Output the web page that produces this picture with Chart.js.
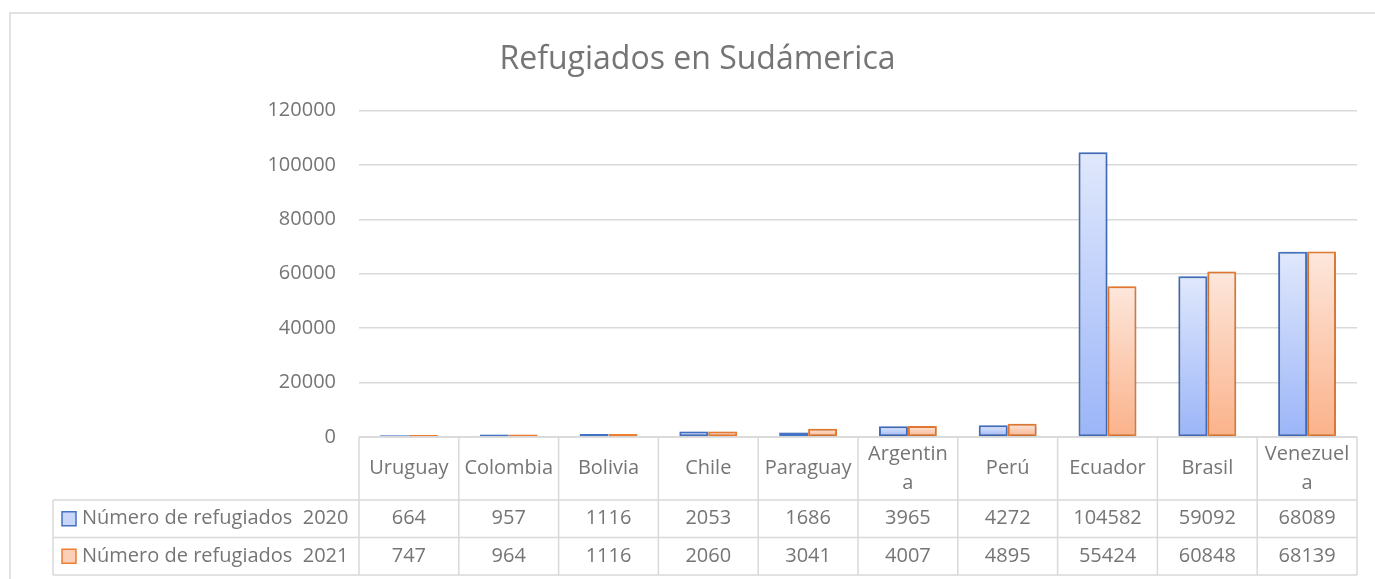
<!DOCTYPE html>
<html lang="es">
<head>
    <meta charset="UTF-8">
    <title>Refugiados en Sudámerica</title>
    <script src="https://cdn.jsdelivr.net/npm/chart.js"></script>
    <style>
        body { margin: 0; background: #fff; }
        canvas { display: block; }
    </style>
</head>
<body>
    <canvas id="chart" width="1375" height="579"></canvas>

    <script>
        const categories = ["Uruguay", "Colombia", "Bolivia", "Chile", "Paraguay", "Argentina", "Perú", "Ecuador", "Brasil", "Venezuela"];
        const refugiados2020 = [664, 957, 1116, 2053, 1686, 3965, 4272, 104582, 59092, 68089];
        const refugiados2021 = [747, 964, 1116, 2060, 3041, 4007, 4895, 55424, 60848, 68139];
        const seriesLabels = ["Número de refugiados  2020", "Número de refugiados  2021"];
        const yMin = 0, yMax = 120000, yStep = 20000;

        const FONT = "'Open Sans', sans-serif";
        const TEXT = '#757575';
        const GRID = '#d9d9d9';

        // per-bar vertical gradient, light at the top, darker at the base
        function barFill(top, bottom) {
            return function (ctx) {
                const chart = ctx.chart;
                const area = chart.chartArea;
                if (!area || ctx.raw == null) return bottom;
                const y = chart.scales.y.getPixelForValue(ctx.raw);
                const g = chart.ctx.createLinearGradient(0, y, 0, area.bottom);
                g.addColorStop(0, top);
                g.addColorStop(1, bottom);
                return g;
            };
        }

        const barShadow = {
            id: 'barShadow',
            beforeDatasetsDraw(chart) {
                const c = chart.ctx;
                c.save();
                c.shadowColor = 'rgba(0,0,0,0.28)';
                c.shadowBlur = 5;
                c.shadowOffsetY = 1;
            },
            afterDatasetsDraw(chart) {
                chart.ctx.restore();
            }
        };

        function wrapChars(c, text, maxW) {
            const lines = [];
            let cur = '';
            for (const ch of text) {
                if (cur && c.measureText(cur + ch).width > maxW) {
                    lines.push(cur);
                    cur = ch;
                } else {
                    cur += ch;
                }
            }
            lines.push(cur);
            return lines;
        }

        // Excel-like data table under the plot, plus outer frame
        const dataTable = {
            id: 'dataTable',
            afterDraw(chart) {
                const c = chart.ctx;
                const area = chart.chartArea;
                const x = chart.scales.x;
                const n = categories.length;
                const colW = (area.right - area.left) / n;
                const top = area.bottom;
                const headH = 63;
                const rowH = 37.5;
                const leftX = 53;
                const rows = [refugiados2020, refugiados2021];

                c.save();
                c.strokeStyle = GRID;
                c.lineWidth = 1.5;

                // outer chart frame
                c.strokeRect(10, 13, 1420, 700);

                // horizontal lines
                c.beginPath();
                c.moveTo(area.left, top); c.lineTo(area.right, top);
                for (let r = 0; r <= rows.length; r++) {
                    const yy = top + headH + r * rowH;
                    c.moveTo(leftX, yy); c.lineTo(area.right, yy);
                }
                // vertical lines
                const bottom = top + headH + rows.length * rowH;
                for (let i = 0; i <= n; i++) {
                    const xx = area.left + i * colW;
                    c.moveTo(xx, top); c.lineTo(xx, bottom);
                }
                c.moveTo(leftX, top + headH); c.lineTo(leftX, bottom);
                c.stroke();

                c.fillStyle = TEXT;
                c.font = `20px ${FONT}`;
                c.textAlign = 'center';
                c.textBaseline = 'middle';

                // header cells
                categories.forEach((name, i) => {
                    const cx = x.getPixelForValue(i);
                    const lines = wrapChars(c, name, colW - 10);
                    const lh = 29;
                    const cy = top + headH / 2 - (lines.length - 1) * lh / 2;
                    lines.forEach((ln, k) => c.fillText(ln, cx, cy + k * lh));
                });

                // value rows with legend keys
                rows.forEach((vals, r) => {
                    const cy = top + headH + r * rowH + rowH / 2;
                    const ds = chart.data.datasets[r];
                    c.textAlign = 'center';
                    vals.forEach((v, i) => c.fillText(String(v), x.getPixelForValue(i), cy));

                    c.fillStyle = ds.keyColor;
                    c.fillRect(62, cy - 7, 14, 14);
                    c.strokeStyle = ds.borderColor;
                    c.lineWidth = 1.5;
                    c.strokeRect(62, cy - 7, 14, 14);
                    c.fillStyle = TEXT;
                    c.textAlign = 'left';
                    c.fillText(ds.label, 82, cy);
                });
                c.restore();
            }
        };

        new Chart(document.getElementById('chart'), {
            type: 'bar',
            data: {
                labels: categories,
                datasets: [
                    {
                        label: seriesLabels[0],
                        data: refugiados2020,
                        backgroundColor: barFill('#e0e8fc', '#9bb5f8'),
                        borderColor: '#4472c4',
                        keyColor: '#c8d6fa',
                        borderWidth: 2,
                        borderSkipped: false
                    },
                    {
                        label: seriesLabels[1],
                        data: refugiados2021,
                        backgroundColor: barFill('#fde7dc', '#fbb28a'),
                        borderColor: '#ed7d31',
                        keyColor: '#fcd0b8',
                        borderWidth: 2,
                        borderSkipped: false
                    }
                ]
            },
            options: {
                responsive: false,
                animation: false,
                categoryPercentage: 0.58,
                barPercentage: 1,
                layout: { padding: { left: 38, right: 18, top: 0, bottom: 142 } },
                scales: {
                    x: { display: false },
                    y: {
                        min: yMin,
                        max: yMax,
                        ticks: {
                            stepSize: yStep,
                            color: TEXT,
                            padding: 23,
                            font: { family: FONT, size: 20 },
                            callback: (v) => String(v)
                        },
                        grid: { color: GRID, lineWidth: 1.5, drawTicks: false },
                        border: { display: false },
                        afterFit(scale) { scale.width = 321; }
                    }
                },
                plugins: {
                    legend: { display: false },
                    tooltip: { enabled: false },
                    title: {
                        display: true,
                        text: 'Refugiados en Sudámerica',
                        color: TEXT,
                        font: { family: FONT, size: 32, weight: 'normal' },
                        padding: { top: 41, bottom: 31 }
                    }
                }
            },
            plugins: [barShadow, dataTable]
        });
    </script>
</body>
</html>
